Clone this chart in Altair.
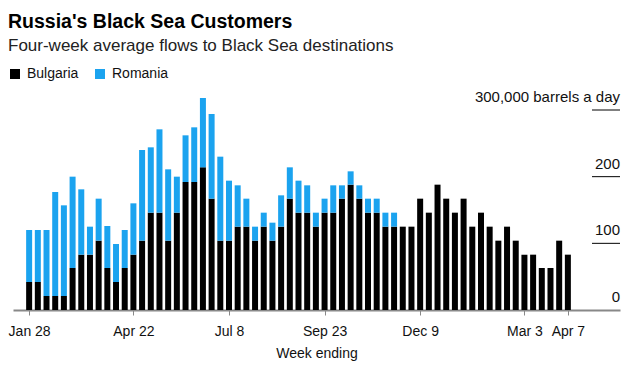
import altair as alt
import pandas as pd

weeks = pd.date_range("2018-01-28", "2019-04-07", freq="7D")

bulgaria = [42, 42, 21, 21, 21, 63, 83, 83, 104, 63, 42, 63, 83, 104, 146, 146,
            104, 146, 192, 192, 214, 167, 104, 104, 125, 125, 104, 125, 104, 125,
            167, 146, 146, 125, 146, 146, 167, 188, 167, 146, 146, 125, 125, 125,
            125, 167, 146, 188, 167, 146, 167, 125, 146, 125, 104, 125, 104, 83,
            83, 63, 63, 104, 83]
total = [120, 120, 120, 177, 157, 200, 181, 125, 167, 126, 99, 120, 160, 240, 244,
         271, 211, 200, 262, 274, 318, 294, 230, 194, 187, 167, 125, 146, 131, 172,
         214, 194, 187, 146, 167, 187, 187, 208, 187, 167, 167, 146, 146] + bulgaria[43:]
romania = [t - b for t, b in zip(total, bulgaria)]

series = ["Bulgaria", "Romania"]
colors = ["#000000", "#1ba3ef"]

tick_dates = ["2018-01-28", "2018-04-22", "2018-07-08", "2018-09-23",
              "2018-12-09", "2019-03-03", "2019-04-07"]
y_ticks = [0, 100, 200, 300]
y_labels = ["0", "100", "200", "300,000 barrels a day"]

rows = []
for i, w in enumerate(weeks):
    rows.append({"week": w, "country": "Bulgaria", "value": bulgaria[i], "order": 0})
    rows.append({"week": w, "country": "Romania", "value": romania[i], "order": 1})
df = pd.DataFrame(rows)

W, H = 607, 220
FONT = "Liberation Sans"

xscale = alt.Scale(domain=[pd.Timestamp("2018-01-15").isoformat(),
                           pd.Timestamp("2019-05-19").isoformat()], padding=0)
yscale = alt.Scale(domain=[0, 330], nice=False, padding=0)

bars = alt.Chart(df).mark_bar(size=6).encode(
    x=alt.X("week:T", scale=xscale,
            axis=alt.Axis(values=[pd.Timestamp(d).isoformat() for d in tick_dates],
                          format="%b %-d", title="Week ending", grid=False,
                          domainColor="#888888", domainWidth=2,
                          tickColor="#888888", tickSize=5, tickWidth=1,
                          labelFont=FONT, labelFontSize=14, labelColor="#111111",
                          labelPadding=9, titleFont=FONT, titleFontSize=14,
                          titleFontWeight="normal", titleColor="#111111",
                          titlePadding=8)),
    y=alt.Y("value:Q", stack="zero", scale=yscale, axis=None),
    color=alt.Color("country:N", scale=alt.Scale(domain=series, range=colors),
                    legend=alt.Legend(title=None, orient="none", legendX=-5, legendY=-23,
                                      direction="horizontal",
                                      symbolType="square", symbolSize=100,
                                      symbolStrokeWidth=0, labelFont=FONT,
                                      labelFontSize=14, labelColor="#111111",
                                      columnPadding=14, labelOffset=5,
                                      padding=0)),
    order=alt.Order("order:Q"),
)

ydf = pd.DataFrame({"v": y_ticks, "label": y_labels})
rules = alt.Chart(ydf[ydf.v > 0]).mark_rule(color="#000000", strokeWidth=1).encode(
    y=alt.Y("v:Q", scale=yscale, axis=None),
    x=alt.value(W - 28), x2=alt.value(W),
)
labels = alt.Chart(ydf).mark_text(align="right", baseline="bottom", dy=-5,
                                  font=FONT, fontSize=15, color="#111111").encode(
    y=alt.Y("v:Q", scale=yscale, axis=None),
    x=alt.value(W),
    text="label:N",
)

chart = alt.layer(bars, rules, labels).properties(
    width=W, height=H,
    autosize=alt.AutoSizeParams(type="none"),
    padding={"left": 5, "top": 82, "right": 4, "bottom": 56},
    title=alt.TitleParams(
        text="Russia's Black Sea Customers",
        subtitle="Four-week average flows to Black Sea destinations",
        anchor="start", frame="group", dx=-5, font=FONT, fontSize=19.5,
        fontWeight="bold", color="#000000", subtitleFont=FONT,
        subtitleFontSize=17, subtitleColor="#222222", subtitlePadding=6,
        offset=12),
).configure_view(stroke=None)

chart.save("out.html", embed_options={"renderer": "svg", "actions": False})
